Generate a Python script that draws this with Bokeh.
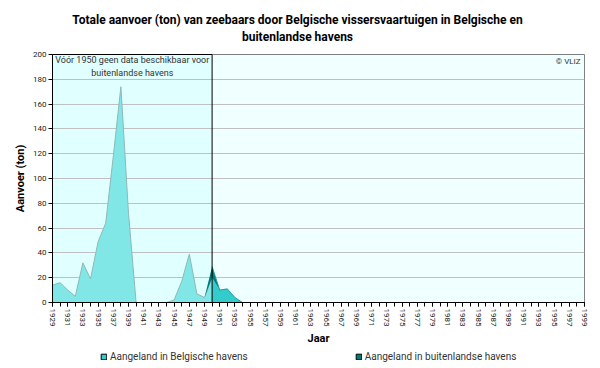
from bokeh.plotting import figure
from bokeh.layouts import column
from bokeh.models import (FixedTicker, Range1d, Label, Legend, LegendItem,
                          ColumnDataSource)
from bokeh.embed import file_html
from bokeh.resources import INLINE

# ---------------- data ----------------
years = list(range(1929, 2000))
belgische = [14, 16, 10, 5, 32, 19, 49, 64, 118, 174, 72, 0, 0, 0, 0, 0,
             2, 17, 39, 7, 4, 20, 10, 11, 4, 0] + [0] * 45
buitenlandse = [0] * 20 + [0, 9, 0] + [0] * 48
split_year = 1950          # first year with data for foreign harbours
y_ticks = list(range(0, 201, 20))
x_tick_labels = years[::2]

title_lines = ["Totale aanvoer (ton) van zeebaars door Belgische vissersvaartuigen in Belgische en",
               "buitenlandse havens"]
note_lines = ["Vóór 1950 geen data beschikbaar voor", "buitenlandse havens"]
legend_labels = ["Aangeland in Belgische havens", "Aangeland in buitenlandse havens"]

FONT = "Roboto"
C_PRE = "#80E6E6"
C_BEL = "#33CCCC"
C_BUI = "#007B7B"
FW, BL, BR = 532, 52, 16
NAN = float("nan")

totaal = [b + f for b, f in zip(belgische, buitenlandse)]
i_split = years.index(split_year)


def strip(height):
    # frame aligned with the main chart's frame; ranges in screen pixels
    return figure(frame_width=FW, frame_height=height, min_border_left=BL, min_border_right=BR,
                  min_border_top=0, min_border_bottom=0,
                  x_range=Range1d(0, FW), y_range=Range1d(0, height),
                  x_axis_type=None, y_axis_type=None, output_backend="svg",
                  toolbar_location=None, outline_line_color=None,
                  background_fill_color="white", border_fill_color="white")


# ---------------- title strip ----------------
TH = 48
tfig = strip(TH)
for line, yc in zip(title_lines, (TH - 19, TH - 36)):
    tfig.add_layout(Label(x=297 - BL, y=yc, text=line, text_align="center",
                          text_baseline="middle", text_font=FONT, text_font_size="12px",
                          text_font_style="bold", text_color="black"))

# ---------------- main chart ----------------
p = figure(frame_width=FW, frame_height=248,
           x_range=Range1d(years[0], years[-1]), y_range=Range1d(0, 200),
           output_backend="svg", toolbar_location=None,
           min_border_left=BL, min_border_right=BR, min_border_top=6, min_border_bottom=44,
           background_fill_color="#F0FFFF", border_fill_color="white",
           outline_line_color="#808080")
p.title = None

# shaded box for years without foreign data
p.quad(left=[years[0]], right=[split_year], bottom=[0], top=[200],
       fill_color="#E0FFFF", line_color=None, level="image")

# areas
src_pre = ColumnDataSource(dict(x=years[:i_split + 1], y=belgische[:i_split + 1]))
src_post = ColumnDataSource(dict(x=years[i_split:], y=belgische[i_split:]))
p.varea(x="x", y1=0, y2="y", source=src_pre, fill_color=C_PRE)
p.varea(x="x", y1=0, y2="y", source=src_post, fill_color=C_BEL)
p.line(x="x", y="y", source=src_pre, line_color="#8FB8B8", line_width=1)
src_tot = ColumnDataSource(dict(x=years, b=belgische, t=totaal))
p.varea(x="x", y1="b", y2="t", source=src_tot, fill_color=C_BUI)
p.line(x=years[i_split:], y=totaal[i_split:], line_color="#1F9E9E", line_width=1)

# box outline
p.quad(left=[years[0]], right=[split_year], bottom=[0], top=[200],
       fill_color=None, line_color="black", line_width=1, level="overlay")

# grid / axes
p.xgrid.visible = False
p.ygrid.grid_line_color = "#C0C0C0"
p.ygrid.ticker = FixedTicker(ticks=y_ticks)

p.yaxis.ticker = FixedTicker(ticks=y_ticks)
p.xaxis.ticker = FixedTicker(ticks=x_tick_labels, minor_ticks=years)
p.xaxis.major_label_orientation = "vertical"
for ax in (p.xaxis, p.yaxis):
    ax.axis_line_color = "black"
    ax.major_tick_line_color = "black"
    ax.minor_tick_line_color = "black"
    ax.major_tick_out = 4
    ax.major_tick_in = 0
    ax.minor_tick_out = 4
    ax.minor_tick_in = 0
    ax.major_label_text_font = FONT
    ax.major_label_text_font_size = "8px"
    ax.major_label_text_color = "#222222"
    ax.major_label_standoff = 2
    ax.axis_label_text_font = FONT
    ax.axis_label_text_font_size = "11px"
    ax.axis_label_text_font_style = "bold"
    ax.axis_label_text_color = "black"
p.yaxis.minor_tick_line_color = None
p.xaxis.axis_label = "Jaar"
p.yaxis.axis_label = "Aanvoer (ton)"
p.xaxis.axis_label_standoff = 3
p.yaxis.axis_label_standoff = 3

# notes
for i, line in enumerate(note_lines):
    p.add_layout(Label(x=(years[0] + split_year) / 2, y=200, y_offset=-5 - 13 * i, text=line,
                       text_align="center", text_baseline="middle", text_font=FONT,
                       text_font_size="9px", text_color="#333333"))
p.add_layout(Label(x=years[-1], y=200, x_offset=-4, y_offset=-2, text="© VLIZ",
                   text_align="right", text_baseline="top", text_font=FONT,
                   text_font_size="8px", text_color="#333333"))

# ---------------- legend strip ----------------
LH = 368 - TH - (6 + 248 + 44)
lfig = strip(LH)
# legend proxies (no visible geometry; only their style is shown in the legend)
r1 = lfig.quad(left=[NAN], right=[NAN], bottom=[NAN], top=[NAN],
               fill_color=C_BEL, line_color="black")
r2 = lfig.quad(left=[NAN], right=[NAN], bottom=[NAN], top=[NAN],
               fill_color=C_BUI, line_color="black")
lg = Legend(items=[LegendItem(label=legend_labels[0], renderers=[r1]),
                   LegendItem(label=legend_labels[1], renderers=[r2])],
            orientation="horizontal", location=(100 - BL, 8), spacing=107,
            background_fill_alpha=0, border_line_color=None, padding=0, margin=0,
            glyph_width=7, glyph_height=7, label_standoff=3, label_height=9,
            label_text_font=FONT, label_text_font_size="10px",
            label_text_color="#333333")
lfig.add_layout(lg, "center")

layout = column(tfig, p, lfig, spacing=0)
open("out.html", "w").write(file_html(layout, INLINE))
